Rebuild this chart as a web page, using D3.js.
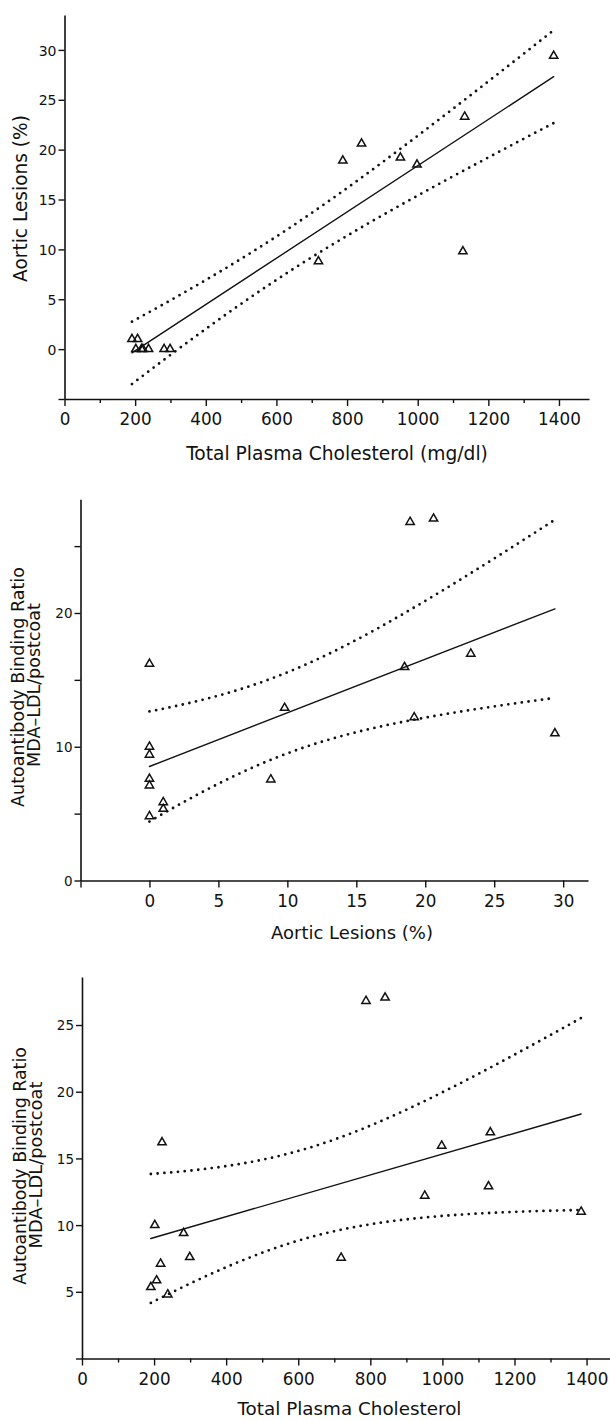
<!DOCTYPE html>
<html><head><meta charset="utf-8">
<script src="https://cdn.jsdelivr.net/npm/d3@7"></script>
<style>
body{margin:0;background:#fff}
svg{display:block}
text{font-family:"DejaVu Sans",sans-serif;fill:#111}
</style>
</head><body>
<svg id="chart" width="610" height="1420"></svg>
<script>
// ---------------- data (one entry per animal) ----------------
const cholesterol = [191, 207, 202, 218, 222, 238, 282, 299, 719, 788, 841, 951, 998, 1128, 1133, 1385];
const lesions     = [1.0, 1.0, 0, 0, 0, 0, 0, 0, 8.8, 18.9, 20.6, 19.2, 18.5, 9.8, 23.3, 29.4];
const antibody    = [5.35, 5.85, 10.0, 7.1, 16.2, 4.8, 9.4, 7.6, 7.55, 26.8, 27.05, 12.2, 15.95, 12.9, 16.95, 11.0];

// ---------------- tick values ----------------
const cholMajorTicks = [0, 200, 400, 600, 800, 1000, 1200, 1400];
const cholMinorTicks = [100, 300, 500, 700, 900, 1100, 1300];
const lesionTicks1   = [-5, 0, 5, 10, 15, 20, 25, 30];
const lesionLabels1  = [0, 5, 10, 15, 20, 25, 30];
const lesionTicks2   = [-5, 0, 5, 10, 15, 20, 25, 30];
const lesionLabels2  = [0, 5, 10, 15, 20, 25, 30];
const abTicks2       = [0, 5, 10, 15, 20, 25];
const abLabels2      = [0, 10, 20];
const abTicks3       = [0, 5, 10, 15, 20, 25];
const abLabels3      = [5, 10, 15, 20, 25];

// ---------------- titles ----------------
const titleChol1 = "Total Plasma Cholesterol (mg/dl)";
const titleLes   = "Aortic Lesions (%)";
const titleAb1   = "Autoantibody Binding Ratio";
const titleAb2   = "MDA\u2013LDL/postcoat";
const titleChol3 = "Total Plasma Cholesterol";

const T_CRIT = 2.145; // t(0.975, df = 14), 95% confidence band of regression

// ---------------- layout ----------------
const panels = [
  { xs: cholesterol, ys: lesions,
    xDomain: [0, 1485], xRange: [64.5, 589], yDomain: [-5, 33.5], yRange: [399, 15],
    xMajor: cholMajorTicks, xMajorLabels: cholMajorTicks, xMinor: cholMinorTicks,
    yTicks: lesionTicks1, yLabels: lesionLabels1, yFont: 14,
    xTitle: { text: titleChol1, cx: 337, cy: 453, w: 302 },
    yTitles: [{ text: titleLes, cx: 20.5, cy: 198.5, w: 167 }] },
  { xs: lesions, ys: antibody,
    xDomain: [-5, 31.8], xRange: [80.5, 588], yDomain: [0, 28.5], yRange: [880.5, 499.3],
    xMajor: lesionTicks2, xMajorLabels: lesionLabels2, xMinor: [],
    yTicks: abTicks2, yLabels: abLabels2, yFont: 13.5,
    xTitle: { text: titleLes, cx: 352, cy: 933, w: 162 },
    yTitles: [{ text: titleAb1, cx: 18, cy: 687, w: 240 },
              { text: titleAb2, cx: 33.5, cy: 685, w: 164 }] },
  { xs: cholesterol, ys: antibody,
    xDomain: [0, 1490], xRange: [82, 619], yDomain: [0, 28.6], yRange: [1358.5, 977],
    xMajor: cholMajorTicks, xMajorLabels: cholMajorTicks, xMinor: cholMinorTicks,
    yTicks: abTicks3, yLabels: abLabels3, yFont: 13.5,
    xTitle: { text: titleChol3, cx: 349.5, cy: 1409, w: 224 },
    yTitles: [{ text: titleAb1, cx: 19.8, cy: 1166, w: 238 },
              { text: titleAb2, cx: 35.3, cy: 1165, w: 167 }] }
];

const svg = d3.select("#chart");
const INK = "#111";

function fitLine(xs, ys) {
  const n = xs.length, mx = d3.mean(xs), my = d3.mean(ys);
  let sxx = 0, sxy = 0, syy = 0;
  for (let i = 0; i < n; i++) {
    const dx = xs[i] - mx, dy = ys[i] - my;
    sxx += dx * dx; sxy += dx * dy; syy += dy * dy;
  }
  const slope = sxy / sxx, intercept = my - slope * mx;
  const s = Math.sqrt((syy - slope * sxy) / (n - 2));
  return { n, mx, sxx, slope, intercept, s,
    at: x => intercept + slope * x,
    half: x => T_CRIT * s * Math.sqrt(1 / n + (x - mx) * (x - mx) / sxx) };
}

function fitText(sel, target, base) {
  sel.attr("font-size", base);
  const len = sel.node().getComputedTextLength();
  sel.attr("font-size", base * target / len);
}

panels.forEach(p => {
  const x = d3.scaleLinear().domain(p.xDomain).range(p.xRange);
  const y = d3.scaleLinear().domain(p.yDomain).range(p.yRange);
  const g = svg.append("g");
  const x0 = p.xRange[0], yBase = p.yRange[0];

  // x axis minor ticks
  g.append("g").attr("transform", `translate(0,${yBase})`)
    .call(d3.axisBottom(x).tickValues(p.xMinor).tickSizeInner(4).tickSizeOuter(0).tickFormat(""))
    .call(a => a.select(".domain").remove());
  // x axis major
  const xa = g.append("g").attr("transform", `translate(0,${yBase})`)
    .call(d3.axisBottom(x).tickValues(p.xMajor).tickSizeInner(7).tickSizeOuter(0)
      .tickFormat(d => p.xMajorLabels.includes(d) ? d : ""));
  xa.select(".domain").attr("stroke", INK).attr("stroke-width", 1.6);
  xa.selectAll(".tick text").attr("y", 20).attr("dy", "0.365em")
    .attr("font-size", 16.8).attr("font-family", "DejaVu Sans").attr("fill", INK);
  g.selectAll(".tick line").attr("stroke", INK).attr("stroke-width", 1.4);

  // y axis
  const ya = g.append("g").attr("transform", `translate(${x0},0)`)
    .call(d3.axisLeft(y).tickValues(p.yTicks).tickSizeInner(6).tickSizeOuter(0)
      .tickFormat(d => p.yLabels.includes(d) ? d : ""));
  ya.select(".domain").attr("stroke", INK).attr("stroke-width", 1.6);
  ya.selectAll(".tick line").attr("stroke", INK).attr("stroke-width", 1.4);
  ya.selectAll(".tick text").attr("x", -8).attr("dy", "0.365em")
    .attr("font-size", p.yFont).attr("font-family", "DejaVu Sans").attr("fill", INK);

  // regression + confidence band
  const f = fitLine(p.xs, p.ys);
  const [xmin, xmax] = d3.extent(p.xs);
  const samples = d3.range(81).map(i => xmin + (xmax - xmin) * i / 80);
  const line = d3.line().x(d => x(d[0])).y(d => y(d[1]));
  g.append("path").attr("d", line([[xmin, f.at(xmin)], [xmax, f.at(xmax)]]))
    .attr("fill", "none").attr("stroke", INK).attr("stroke-width", 1.4)
    .attr("stroke-linecap", "round");
  [1, -1].forEach(sg => {
    g.append("path").attr("d", line(samples.map(v => [v, f.at(v) + sg * f.half(v)])))
      .attr("fill", "none").attr("stroke", INK).attr("stroke-width", 2.8)
      .attr("stroke-linecap", "round").attr("stroke-dasharray", "0,6.8");
  });

  // points
  const sym = d3.symbol().type(d3.symbolTriangle).size(30);
  g.selectAll("path.pt").data(p.xs.map((v, i) => [v, p.ys[i]])).join("path")
    .attr("class", "pt")
    .attr("transform", d => `translate(${x(d[0])},${y(d[1])})`)
    .attr("d", sym).attr("fill", "none").attr("stroke", INK).attr("stroke-width", 1.5);

  // titles
  const xt = g.append("text").text(p.xTitle.text)
    .attr("x", p.xTitle.cx).attr("y", p.xTitle.cy).attr("dy", "0.35em")
    .attr("text-anchor", "middle");
  fitText(xt, p.xTitle.w, 17);
  p.yTitles.forEach(t => {
    const yt = g.append("text").text(t.text)
      .attr("transform", `translate(${t.cx},${t.cy}) rotate(-90)`)
      .attr("dy", "0.35em").attr("text-anchor", "middle");
    fitText(yt, t.w, 17);
  });
});
</script>
</body></html>
